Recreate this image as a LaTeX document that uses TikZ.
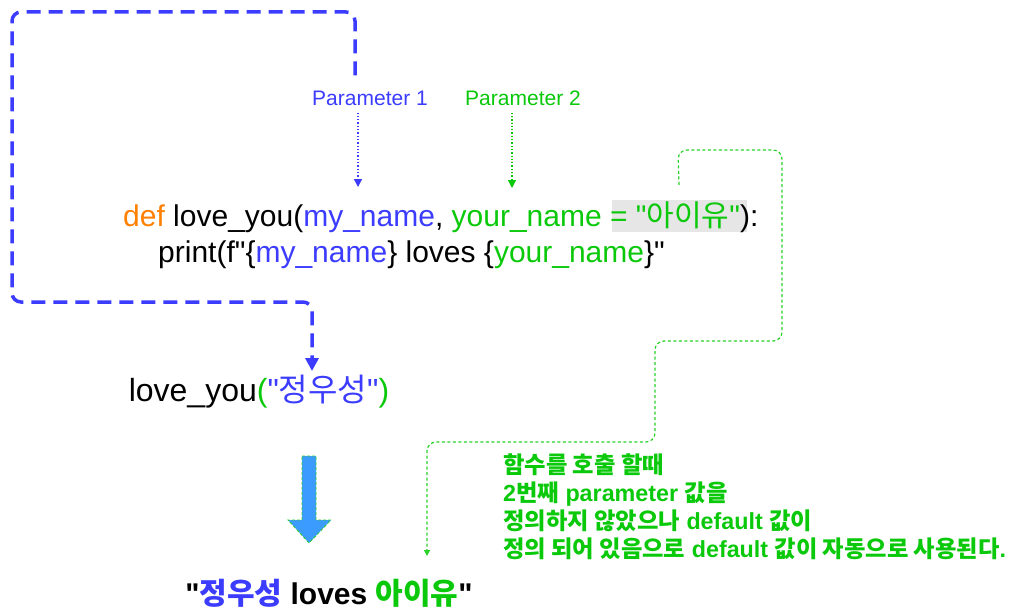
\documentclass[tikz,border=0pt]{standalone}
\usepackage{fontspec}
\usepackage{xcolor}
\usetikzlibrary{positioning,arrows.meta}
\newfontfamily\codefont{Liberation Sans}
\newfontfamily\kr{Noto Sans CJK KR}
\definecolor{pblue}{RGB}{60,60,255}
\definecolor{pgreen}{RGB}{10,200,10}
\definecolor{lgreen}{RGB}{40,210,40}
\definecolor{korange}{RGB}{255,128,0}
\definecolor{hlgray}{RGB}{230,230,230}
\definecolor{arrowblue}{RGB}{60,155,255}

\begin{document}
\begin{tikzpicture}[x=1pt, y=-1pt, every node/.style={inner sep=0pt, font=\codefont}]
  \tikzset{
    code/.style={font=\codefont\fontsize{30}{34}\selectfont, anchor=base west},
    plabel/.style={font=\codefont\fontsize{21}{24}\selectfont},
    pointer/.style={dotted, line width=1.3pt, -{Triangle[length=8pt,width=8pt]}},
    bigpath/.style={pblue, line width=3.5pt, dash pattern=on 14pt off 8pt, rounded corners=9pt, -{Triangle[length=13pt,width=13pt]}},
    hintpath/.style={lgreen, line width=1.2pt, dash pattern=on 3pt off 2.5pt, rounded corners=9pt, -{Triangle[length=6pt,width=6pt]}},
    note/.style={font=\codefont\bfseries\fontsize{23.3}{28}\selectfont, text=pgreen, align=left, anchor=north west}
  }
  \useasboundingbox (0,0) rectangle (1024,610);

  % default value highlight
  \node[fill=hlgray, minimum width=135pt, minimum height=32pt] (hl) at (679,216) {};

  \node[code] (defline) at (123,226) {\textcolor{korange}{def} love\_you(\textcolor{pblue}{my\_name}, \textcolor{pgreen}{your\_name = "{\kr 아이유}"}):};
  \node[code] (printline) at (158,262) {print(f"\{\textcolor{pblue}{my\_name}\} loves \{\textcolor{pgreen}{your\_name}\}"};

  \node[plabel, text=pblue]  (p1) at (370,98) {Parameter 1};
  \node[plabel, text=pgreen] (p2) at (523,98) {Parameter 2};
  \coordinate (myname) at (358,187);
  \coordinate (yourname) at (512,188);
  \draw[pointer, pblue]  ([xshift=-12pt]p1.south) ++(0,-7pt) -- (myname);
  \draw[pointer, pgreen] ([xshift=-11pt]p2.south) ++(0,-7pt) -- (yourname);

  \node[code, anchor=center, font=\codefont\fontsize{32}{36}\selectfont] (call) at (259,392) {love\_you\textcolor{pgreen}{(}\textcolor{pblue}{"{\kr 정우성}"}\textcolor{pgreen}{)}};
  \coordinate (callin) at (312,371);
  \draw[bigpath] ([xshift=-15pt,yshift=15pt]p1.north) -- (355,12) -- (12,12) -- (12,302) -- (312,302) -- (callin);

  \node[font=\codefont\bfseries\fontsize{30}{34}\selectfont] (result) at (329,593) {"\textcolor{pblue}{\kr\bfseries 정우성} loves \textcolor{pgreen}{\kr\bfseries 아이유}"};
  \coordinate (resultin) at (427,556);
  \draw[hintpath] ([yshift=15pt]hl.north) -- (678,150) -- (782,150) -- (782,341) -- (655,341) -- (655,442) -- (427,442) -- (resultin);

  % call -> result
  \draw[lgreen, densely dashed, line width=0.8pt, fill=arrowblue] (302,456) -- (316,456) -- (316,520) -- (331,520) -- (309,543) -- (288,520) -- (302,520) -- cycle;

  \node[note] (hint) at (503,454) {{\kr 함수를 호출 할때}\\2{\kr 번째} parameter {\kr 값을}\\{\kr 정의하지 않았으나} default {\kr 값이}\\{\kr 정의 되어 있음으로} default {\kr 값이 자동으로 사용된다}.};
\end{tikzpicture}
\end{document}
